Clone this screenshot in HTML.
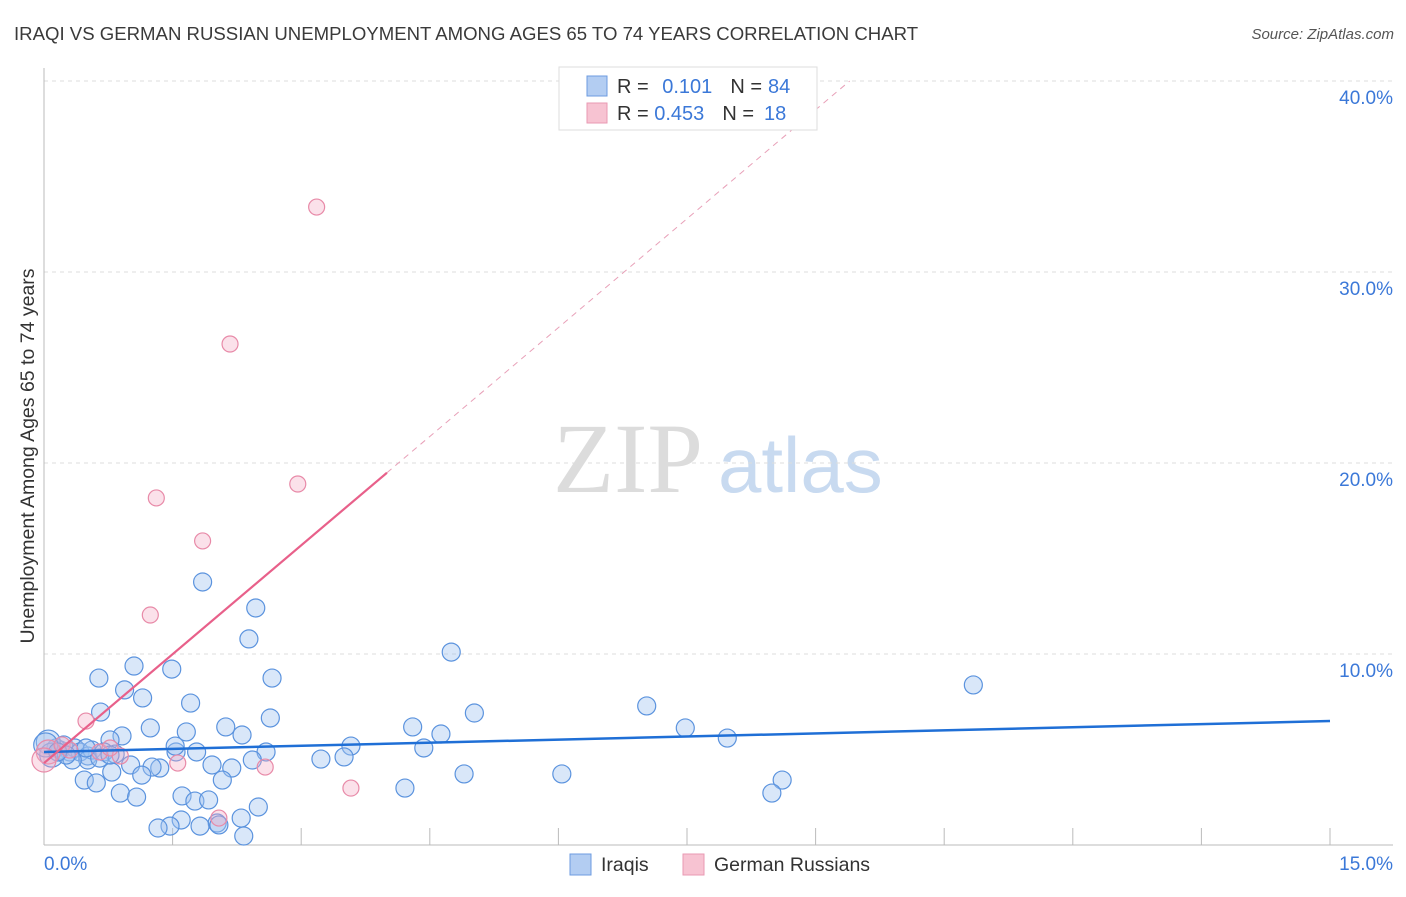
<!DOCTYPE html>
<html><head><meta charset="utf-8"><style>
body{margin:0;background:#fff;font-family:"Liberation Sans",sans-serif;}
</style></head><body>
<svg id="chart" width="1406" height="892" xmlns="http://www.w3.org/2000/svg" font-family="Liberation Sans, sans-serif">
<text x="14" y="40" font-size="18.6" fill="#3a3a3a">IRAQI VS GERMAN RUSSIAN UNEMPLOYMENT AMONG AGES 65 TO 74 YEARS CORRELATION CHART</text>
<text x="1394" y="39" font-size="15" fill="#555" text-anchor="end" font-style="italic">Source: ZipAtlas.com</text>
<text x="553" y="492" font-size="100" fill="#dcdcdc" style="font-family:'Liberation Serif',serif">ZIP</text>
<text x="718" y="492" font-size="78" fill="#c8daf0">atlas</text>
<text transform="translate(34,456) rotate(-90)" font-size="19.5" fill="#333" text-anchor="middle">Unemployment Among Ages 65 to 74 years</text>
<g id="grid"></g><g id="axes"></g><g id="marks"></g>
<g>
<rect x="559" y="67" width="258" height="63" fill="#fff" stroke="#ddd"/>
<rect x="587" y="76" width="20" height="20" fill="#b3cdf2" stroke="#6d9be0"/>
<rect x="587" y="103" width="20" height="20" fill="#f7c3d2" stroke="#e99ab3"/>
<text x="617" y="93" font-size="20" fill="#333">R = <tspan fill="#3b78d8" dx="8">0.101</tspan><tspan dx="18">N =</tspan><tspan fill="#3b78d8" dx="6">84</tspan></text>
<text x="617" y="120" font-size="20" fill="#333">R = <tspan fill="#3b78d8">0.453</tspan><tspan dx="18">N =</tspan><tspan fill="#3b78d8" dx="10">18</tspan></text>
</g>
<g>
<rect x="570" y="854" width="21" height="21" fill="#b3cdf2" stroke="#6d9be0"/>
<text x="601" y="871" font-size="19.5" fill="#333">Iraqis</text>
<rect x="683" y="854" width="21" height="21" fill="#f7c3d2" stroke="#e99ab3"/>
<text x="714" y="871" font-size="19.5" fill="#333">German Russians</text>
</g>
</svg>
<script>
const xTickValues=[0,1.5,3,4.5,6,7.5,9,10.5,12,13.5,15];
const yTickValues=[10,20,30,40];
const yTickLabels=["10.0%","20.0%","30.0%","40.0%"];
const xEndLabels=["0.0%","15.0%"];
const blueX=[0.64,1.05,1.49,0.94,1.15,1.71,0.66,1.24,0.91,0.77,1.66,2.31,2.12,2.64,2.66,2.39,2.47,1.85,4.75,5.02,4.30,4.63,4.43,3.58,3.23,3.50,2.59,2.43,1.78,1.54,1.53,1.96,2.19,1.35,1.26,1.01,0.79,1.14,0.47,0.61,0.89,1.08,1.61,1.76,1.92,2.08,2.50,2.30,2.02,2.04,1.82,1.60,1.47,1.33,2.33,4.21,4.90,6.04,7.03,7.48,7.97,10.84,8.61,8.49,0.30,0.19,0.14,0.05,0.09,0.23,0.36,0.42,0.51,0.56,0.70,0.83,0.51,0.33,0.02,0.26,0.16,0.65,0.49,0.77];
const blueY=[8.74,9.37,9.21,8.12,7.70,7.43,6.96,6.13,5.71,5.50,5.92,5.76,6.18,6.65,8.74,10.79,12.41,13.77,10.10,6.91,6.18,5.81,5.08,5.18,4.50,4.61,4.87,4.45,4.87,4.87,5.18,4.19,4.03,4.03,4.08,4.19,3.82,3.66,3.40,3.25,2.72,2.51,2.57,2.30,2.36,3.40,1.99,1.41,1.15,1.05,0.99,1.31,0.99,0.89,0.47,2.98,3.72,3.72,7.28,6.13,5.60,8.38,3.40,2.72,4.87,4.97,5.08,5.39,4.71,5.24,5.08,4.87,4.66,4.97,4.87,4.76,4.45,4.45,5.24,4.71,4.87,4.55,5.08,4.71];
const pinkX=[3.18,2.17,2.96,1.31,1.85,1.24,0.49,0.05,0.21,0.30,0.65,0.89,1.56,2.58,3.58,2.04,0.0,0.77];
const pinkY=[33.40,26.23,18.90,18.17,15.92,12.04,6.49,4.87,5.24,4.97,4.87,4.66,4.29,4.08,2.98,1.41,4.45,5.08];
const blueTrend=[4.87,6.49];
const pinkTrend=[4.29,3.8];
const pinkSolidEnd=4.0;
const X0=44,X1=1330,Y0=845,PPY=19.1;
const sx=v=>X0+(X1-X0)*v/15, sy=v=>Y0-v*PPY;
const NS="http://www.w3.org/2000/svg";
function mk(tag,attrs,parent){const e=document.createElementNS(NS,tag);for(const k in attrs)e.setAttribute(k,attrs[k]);parent.appendChild(e);return e;}
const grid=document.getElementById('grid'),axes=document.getElementById('axes'),marks=document.getElementById('marks');
yTickValues.forEach((v,i)=>{
 const l=mk('line',{x1:X0,x2:1393,y1:sy(v),y2:sy(v),stroke:'#ddd','stroke-dasharray':'4,4'},grid);
 
 
 const t=mk('text',{x:1393,y:sy(v)+23,'font-size':19,fill:'#3b78d8','text-anchor':'end'},axes);t.textContent=yTickLabels[i];
 
 
});
const ax=mk('line',{x1:X0,x2:X0,y1:68,y2:Y0,stroke:'#bbb'},axes);


const bx=mk('line',{x1:X0,x2:1393,y1:Y0,y2:Y0,stroke:'#bbb'},axes);


xTickValues.forEach(v=>{const t=mk('line',{x1:sx(v),x2:sx(v),y1:Y0-17,y2:Y0,stroke:'#bbb'},axes);
 
 });
const xl0=mk('text',{x:44,y:870,'font-size':19,fill:'#3b78d8'},axes);xl0.textContent=xEndLabels[0];


const xl1=mk('text',{x:1393,y:870,'font-size':19,fill:'#3b78d8','text-anchor':'end'},axes);xl1.textContent=xEndLabels[1];


blueX.forEach((x,i)=>{const c=mk('circle',{cx:sx(x),cy:sy(blueY[i]),r:x<0.1?12:9,fill:'rgba(160,195,240,0.4)',stroke:'#5b93de','stroke-width':1.2},marks);
 
 });
pinkX.forEach((x,i)=>{const c=mk('circle',{cx:sx(x),cy:sy(pinkY[i]),r:x<0.1?12:8,fill:'rgba(244,170,195,0.35)',stroke:'#e88aa8','stroke-width':1.2},marks);
 
 });
const bt=mk('line',{x1:sx(0),y1:sy(blueTrend[0]),x2:sx(15),y2:sy(blueTrend[1]),stroke:'#1f6fd6','stroke-width':2.5},marks);


const pe=(40-pinkTrend[0])/pinkTrend[1];
const pd=mk('line',{x1:sx(pinkSolidEnd),y1:sy(pinkTrend[0]+pinkTrend[1]*pinkSolidEnd),x2:sx(pe),y2:sy(40),stroke:'#e8a0b8','stroke-width':1,'stroke-dasharray':'6,5'},marks);


const ps=mk('line',{x1:sx(0),y1:sy(pinkTrend[0]),x2:sx(pinkSolidEnd),y2:sy(pinkTrend[0]+pinkTrend[1]*pinkSolidEnd),stroke:'#e8608a','stroke-width':2.2},marks);


</script>
</body></html>
